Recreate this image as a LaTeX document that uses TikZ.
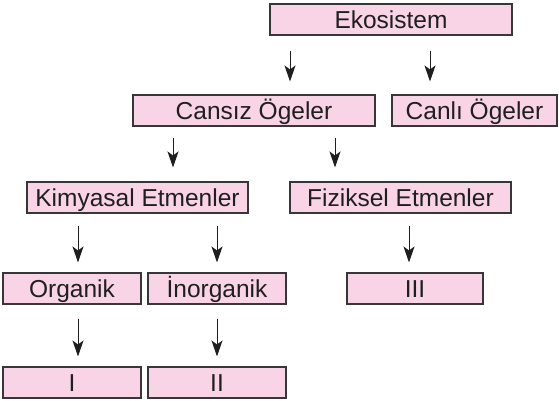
\documentclass[tikz,border=0pt]{standalone}
\usepackage{fontspec}
\setmainfont{Liberation Sans}
\usetikzlibrary{arrows.meta}
\definecolor{boxpink}{RGB}{249,212,230}
\definecolor{boxline}{RGB}{55,55,55}
\definecolor{arrline}{RGB}{30,30,30}
\tikzset{
  cbox/.style={draw=boxline, fill=boxpink, line width=1.1pt, inner sep=0pt,
    minimum height=31pt, text height=18pt, text depth=0pt,
    font=\fontsize{24.5}{27}\selectfont, text=black!88},
  arr/.style={draw=arrline, line width=1pt,
    -{Stealth[length=16pt,width=11pt,inset=4pt]}}
}
\begin{document}
\begin{tikzpicture}[x=1pt,y=-1pt]
\useasboundingbox (0,0) rectangle (559,400);
\node[cbox, minimum width=242pt] (eko) at (391,19.5) {Ekosistem};
\node[cbox, minimum width=242pt] (cansiz) at (254,110.5) {Cansız Ögeler};
\node[cbox, minimum width=165pt] (canli) at (474.5,110.5) {Canlı Ögeler};
\node[cbox, minimum width=221pt] (kim) at (137.5,197.5) {Kimyasal Etmenler};
\node[cbox, minimum width=221pt] (fiz) at (400.5,197.5) {Fiziksel Etmenler};
\node[cbox, minimum width=138pt] (org) at (72,288.5) {Organik};
\node[cbox, minimum width=138pt] (inorg) at (217,288.5) {İnorganik};
\node[cbox, minimum width=136pt] (iii) at (415,288.5) {III};
\node[cbox, minimum width=138pt] (i) at (72,382.5) {I};
\node[cbox, minimum width=138pt] (ii) at (217,382.5) {II};
% arrows
\draw[arr, shorten <=15pt, shorten >=13pt] ([xshift=-101pt]eko.south) -- ([xshift=36pt]cansiz.north);
\draw[arr, shorten <=15pt, shorten >=13pt] ([xshift=39pt]eko.south) -- ([xshift=-44.5pt]canli.north);
\draw[arr, shorten <=11pt, shorten >=14pt] ([xshift=-81pt]cansiz.south) -- ([xshift=35.5pt]kim.north);
\draw[arr, shorten <=11pt, shorten >=14pt] ([xshift=81pt]cansiz.south) -- ([xshift=-65.5pt]fiz.north);
\draw[arr, shorten <=12pt, shorten >=10pt] ([xshift=-59.5pt]kim.south) -- ([xshift=6pt]org.north);
\draw[arr, shorten <=12pt, shorten >=10pt] ([xshift=79.5pt]kim.south) -- (inorg.north);
\draw[arr, shorten <=12pt, shorten >=10pt] ([xshift=8.5pt]fiz.south) -- ([xshift=-6pt]iii.north);
\draw[arr, shorten <=14pt, shorten >=10pt] ([xshift=6pt]org.south) -- ([xshift=6pt]i.north);
\draw[arr, shorten <=14pt, shorten >=10pt] (inorg.south) -- (ii.north);
\end{tikzpicture}
\end{document}
